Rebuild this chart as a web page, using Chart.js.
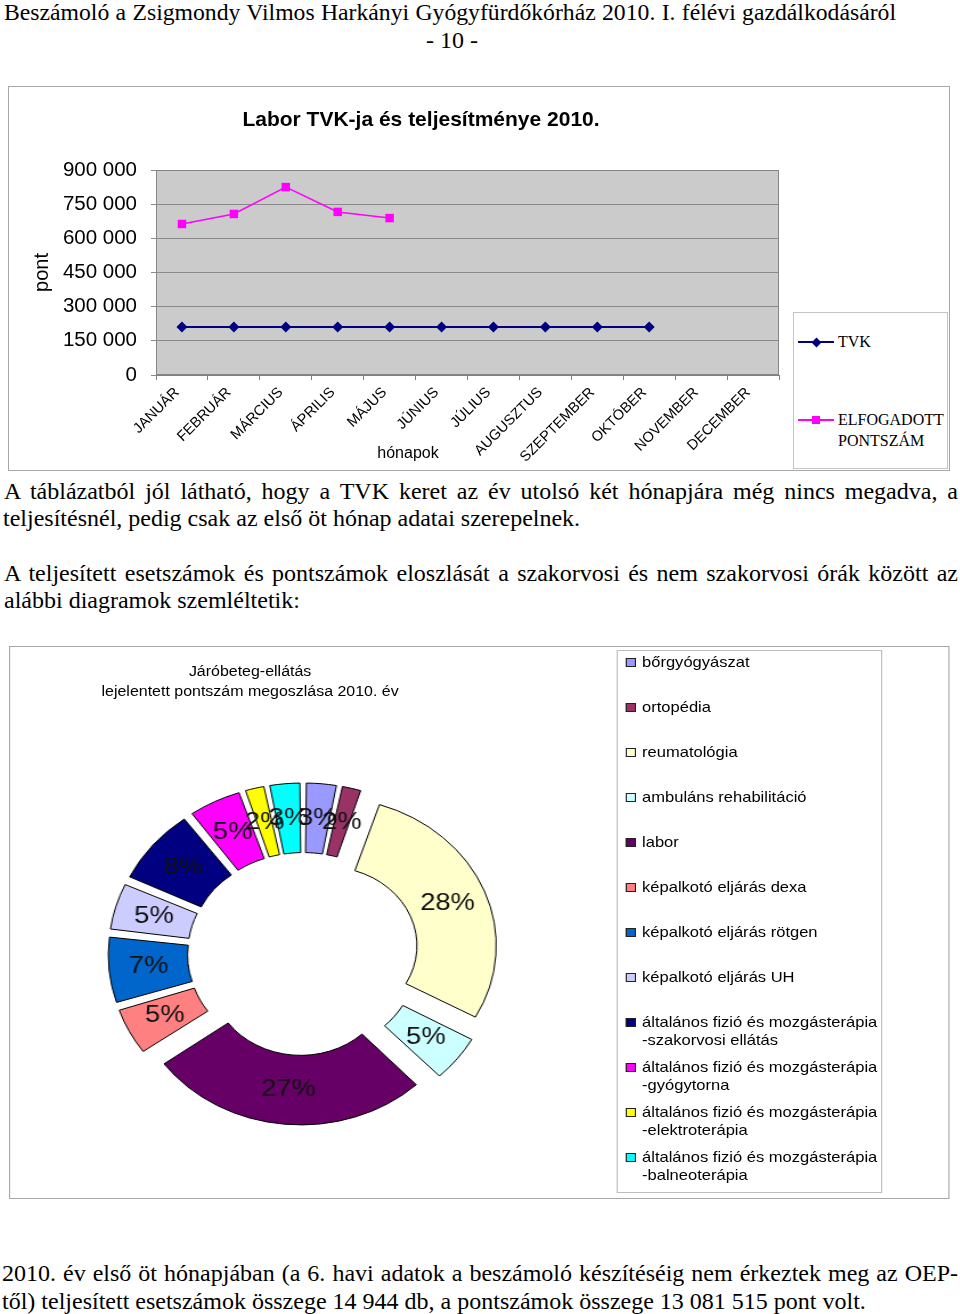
<!DOCTYPE html>
<html lang="hu">
<head>
<meta charset="utf-8">
<script src="https://cdn.jsdelivr.net/npm/chart.js@4.4.1/dist/chart.umd.min.js"></script>
<style>
html,body{margin:0;padding:0;background:#fff;}
#page{position:relative;width:960px;height:1314px;overflow:hidden;background:#fff;color:#000;}
.t{position:absolute;white-space:nowrap;font-family:"Liberation Serif","Times New Roman",serif;font-size:24px;line-height:28px;height:28px;}
.j{text-align:justify;text-align-last:justify;}
.box1{position:absolute;left:8px;top:86px;width:942px;height:385px;box-sizing:border-box;border:1px solid #a8a8a8;}
#c1{position:absolute;left:8px;top:87px;}
.ctitle{position:absolute;left:221px;top:107px;width:400px;text-align:center;font:bold 21px/24px "Liberation Sans",Arial,sans-serif;white-space:nowrap;}
.xtitle{position:absolute;left:358px;top:444px;width:100px;text-align:center;font:16px/18px "Liberation Sans",Arial,sans-serif;}
.leg1{position:absolute;left:793px;top:312px;width:155px;height:157px;box-sizing:border-box;border:1px solid #c4c4c4;}
.leg1 .ln{position:absolute;height:2px;}
.leg1 .tx{position:absolute;font:16px/21px "Liberation Serif","Times New Roman",serif;white-space:nowrap;}
.sec2{position:absolute;left:9px;top:646px;width:824.56px;height:553px;box-sizing:border-box;border:1px solid #a8a8a8;transform:scaleX(1.14);transform-origin:0 0;}
#c2{position:absolute;left:76.5px;top:117px;}
.dtitle{position:absolute;left:60.5px;top:14px;width:300px;text-align:center;font:14px/20px "Liberation Sans",Arial,sans-serif;white-space:nowrap;}
.leg2{position:absolute;left:532.3px;top:3px;width:232.5px;height:543px;box-sizing:border-box;border:1px solid #bdbdbd;}
.leg2 .sw{position:absolute;left:6.7px;width:9px;height:9px;box-sizing:border-box;border:1px solid #222;}
.leg2 .tx{position:absolute;left:21px;font:14.5px/18px "Liberation Sans",Arial,sans-serif;white-space:nowrap;}
</style>
</head>
<body>
<div id="page">
  <div class="t j" style="left:4px;top:-2px;width:892px;font-size:23.7px;">Beszámoló a Zsigmondy Vilmos Harkányi Gyógyfürdőkórház 2010. I. félévi gazdálkodásáról</div>
  <div class="t" style="left:4px;top:26px;width:896px;text-align:center;">- 10 -</div>

  <div class="box1"></div>
  <canvas id="c1" width="780" height="382"></canvas>
  <div class="ctitle">Labor TVK-ja és teljesítménye 2010.</div>
  <div class="xtitle">hónapok</div>
  <div class="leg1" id="leg1"></div>

  <div class="t j" style="left:4px;top:477px;width:954px;">A táblázatból jól látható, hogy a TVK keret az év utolsó két hónapjára még nincs megadva, a</div>
  <div class="t" style="left:3px;top:504px;">teljesítésnél, pedig csak az első öt hónap adatai szerepelnek.</div>
  <div class="t j" style="left:4px;top:559px;width:954px;">A teljesített esetszámok és pontszámok eloszlását a szakorvosi és nem szakorvosi órák között az</div>
  <div class="t" style="left:4px;top:586px;">alábbi diagramok szemléltetik:</div>

  <div class="sec2">
    <div class="dtitle">Járóbeteg-ellátás<br>lejelentett pontszám megoszlása 2010. év</div>
    <canvas id="c2" width="360" height="380"></canvas>
    <div class="leg2" id="leg2"></div>
  </div>

  <div class="t j" style="left:2px;top:1259px;width:956px;">2010. év első öt hónapjában (a 6. havi adatok a beszámoló készítéséig nem érkeztek meg az OEP-</div>
  <div class="t" style="left:2px;top:1287px;">től) teljesített esetszámok összege 14 944 db, a pontszámok összege 13 081 515 pont volt.</div>
</div>

<script>
// ---------- data: line chart ----------
const months = ['JANUÁR','FEBRUÁR','MÁRCIUS','ÁPRILIS','MÁJUS','JÚNIUS','JÚLIUS','AUGUSZTUS','SZEPTEMBER','OKTÓBER','NOVEMBER','DECEMBER'];
const tvkValues = [211000, 211000, 211000, 211000, 211000, 211000, 211000, 211000, 211000, 211000, null, null];
const acceptedValues = [663000, 707000, 825000, 716000, 689000, null, null, null, null, null, null, null];
const seriesNames = ['TVK', ['ELFOGADOTT', 'PONTSZÁM']];
const yTicks = [0, 150000, 300000, 450000, 600000, 750000, 900000];

// ---------- data: doughnut ----------
const specialties = ['bőrgyógyászat','ortopédia','reumatológia','ambuláns rehabilitáció','labor','képalkotó eljárás dexa','képalkotó eljárás rötgen','képalkotó eljárás UH',['általános fizió és mozgásterápia','-szakorvosi ellátás'],['általános fizió és mozgásterápia','-gyógytorna'],['általános fizió és mozgásterápia','-elektroterápia'],['általános fizió és mozgásterápia','-balneoterápia']];
const shares = [3, 2, 28, 5, 27, 5, 7, 5, 8, 5, 2, 3];
const sliceColors = ['#9999FF','#993366','#FFFFCC','#CCFFFF','#660066','#FF8080','#0066CC','#CCCCFF','#000080','#FF00FF','#FFFF00','#00FFFF'];

const SANS = '"Liberation Sans", Arial, sans-serif';
const fmt = v => String(v).replace(/\B(?=(\d{3})+(?!\d))/g, ' ');

// ---------- line chart ----------
const plotBg = {
  id: 'plotBg',
  beforeDraw(chart) {
    const {ctx, chartArea: a} = chart;
    ctx.save(); ctx.fillStyle = '#cbcbcb';
    ctx.fillRect(a.left, a.top, a.right - a.left, a.bottom - a.top);
    ctx.restore();
  },
  beforeDatasetsDraw(chart) {
    const {ctx, chartArea: a} = chart;
    ctx.save(); ctx.strokeStyle = '#858585'; ctx.lineWidth = 1;
    ctx.strokeRect(Math.round(a.left) + 0.5, Math.round(a.top) + 0.5, Math.round(a.right - a.left) - 1, Math.round(a.bottom - a.top) - 1);
    ctx.restore();
  }
};

new Chart(document.getElementById('c1'), {
  type: 'line',
  data: {
    labels: months,
    datasets: [
      {label: 'TVK', data: tvkValues, borderColor: '#000080', backgroundColor: '#000080', borderWidth: 2,
       pointStyle: 'rectRot', pointRadius: 5.5, pointBorderWidth: 0, tension: 0, spanGaps: false},
      {label: 'ELFOGADOTT PONTSZÁM', data: acceptedValues, borderColor: '#FF00FF', backgroundColor: '#FF00FF', borderWidth: 1.5,
       pointStyle: 'rect', pointRadius: 6, pointBorderWidth: 0, tension: 0, spanGaps: false}
    ]
  },
  options: {
    responsive: false, animation: false, devicePixelRatio: 1,
    layout: {padding: {top: 83, right: 9, left: 0, bottom: 0}},
    plugins: {legend: {display: false}, tooltip: {enabled: false}, title: {display: false}},
    scales: {
      x: {
        type: 'category', offset: true,
        afterFit(s) { s.height = 94; },
        grid: {display: true, offset: true, drawOnChartArea: false, drawTicks: true, tickLength: 5, color: '#808080'},
        border: {display: true, color: '#808080'},
        ticks: {autoSkip: false, minRotation: 45, maxRotation: 45, padding: 4, labelOffset: -5, color: '#000', font: {family: SANS, size: 14.5}}
      },
      y: {
        min: 0, max: 900000,
        afterFit(s) { s.width = 148; },
        afterBuildTicks(s) { s.ticks = yTicks.map(v => ({value: v})); },
        grid: {color: '#8a8a8a', lineWidth: 1, drawTicks: true, tickLength: 5},
        border: {display: true, color: '#808080'},
        ticks: {padding: 14, color: '#000', font: {family: SANS, size: 20.5}, callback: v => fmt(v)},
        title: {display: true, text: 'pont', color: '#000', font: {family: SANS, size: 20}, padding: {top: 22, bottom: 0}}
      }
    }
  },
  plugins: [plotBg]
});

// line chart legend (HTML)
(function () {
  const leg = document.getElementById('leg1');
  const items = [
    {name: seriesNames[0], color: '#000080', marker: 'diamond', cy: 29},
    {name: seriesNames[1], color: '#FF00FF', marker: 'square', cy: 107}
  ];
  items.forEach(it => {
    const ln = document.createElement('div');
    ln.className = 'ln'; ln.style.left = '4px'; ln.style.width = '36px';
    ln.style.top = (it.cy - 1) + 'px'; ln.style.background = it.color;
    leg.appendChild(ln);
    const mk = document.createElement('div');
    mk.style.position = 'absolute'; mk.style.background = it.color;
    if (it.marker === 'diamond') {
      mk.style.width = '7px'; mk.style.height = '7px'; mk.style.left = (22 - 3.5) + 'px'; mk.style.top = (it.cy - 3.5) + 'px';
      mk.style.transform = 'rotate(45deg)';
    } else {
      mk.style.width = '8px'; mk.style.height = '8px'; mk.style.left = (22 - 4) + 'px'; mk.style.top = (it.cy - 4) + 'px';
    }
    leg.appendChild(mk);
    const tx = document.createElement('div');
    tx.className = 'tx'; tx.style.left = '44px'; tx.style.top = (it.cy - 11) + 'px';
    tx.innerHTML = (Array.isArray(it.name) ? it.name : [it.name]).join('<br>');
    leg.appendChild(tx);
  });
})();

// ---------- doughnut ----------
const EXPLODE = 23;
const total = shares.reduce((a, b) => a + b, 0);
const pctLabels = {
  id: 'pctLabels',
  afterDatasetsDraw(chart) {
    const {ctx} = chart;
    const meta = chart.getDatasetMeta(0);
    const data = chart.data.datasets[0].data;
    const sum = data.reduce((a, b) => a + b, 0);
    ctx.save();
    ctx.font = '24px ' + SANS; ctx.fillStyle = '#111';
    ctx.textAlign = 'center'; ctx.textBaseline = 'middle';
    meta.data.forEach((arc, i) => {
      const p = arc.getProps(['x', 'y', 'startAngle', 'endAngle', 'innerRadius', 'outerRadius'], true);
      const mid = (p.startAngle + p.endAngle) / 2;
      const r = (p.innerRadius + p.outerRadius) / 2 + EXPLODE;
      ctx.fillText(Math.round(data[i] / sum * 100) + '%', p.x + Math.cos(mid) * r, p.y + Math.sin(mid) * r);
    });
    ctx.restore();
  }
};

new Chart(document.getElementById('c2'), {
  type: 'doughnut',
  data: {
    labels: specialties.map(s => Array.isArray(s) ? s.join(' ') : s),
    datasets: [{
      data: shares, backgroundColor: sliceColors, borderColor: '#000', borderWidth: 1, borderJoinStyle: 'miter',
      offset(ctx) {
        const v = ctx.dataset.data[ctx.dataIndex];
        const circ = v / total * Math.PI * 2;
        return 4 * EXPLODE / (2 - Math.sin(Math.min(Math.PI, circ)));
      }
    }]
  },
  options: {
    responsive: false, animation: false, devicePixelRatio: 1,
    radius: 148, cutout: '53%', rotation: 0,
    layout: {padding: 0},
    plugins: {legend: {display: false}, tooltip: {enabled: false}}
  },
  plugins: [pctLabels]
});

// doughnut legend (HTML)
(function () {
  const leg = document.getElementById('leg2');
  specialties.forEach((name, i) => {
    const cy = 11 + 45 * i;
    const sw = document.createElement('div');
    sw.className = 'sw'; sw.style.top = (cy - 4.5) + 'px'; sw.style.background = sliceColors[i];
    leg.appendChild(sw);
    const tx = document.createElement('div');
    tx.className = 'tx'; tx.style.top = (cy - 9) + 'px';
    tx.innerHTML = (Array.isArray(name) ? name : [name]).join('<br>');
    leg.appendChild(tx);
  });
})();
</script>
</body>
</html>
